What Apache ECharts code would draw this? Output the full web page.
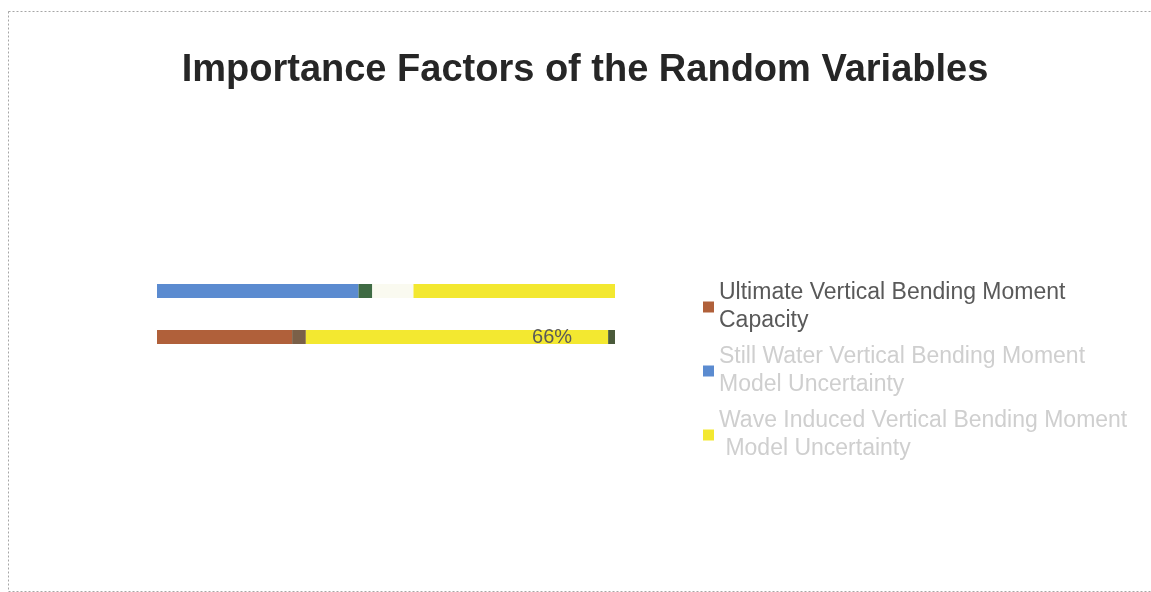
<!DOCTYPE html>
<html>
<head>
<meta charset="utf-8">
<script src="https://cdn.jsdelivr.net/npm/echarts@6/dist/echarts.min.js"></script>
<style>
  html, body { margin: 0; padding: 0; background: #fff; }
  #chart { width: 1151px; height: 592px; }
</style>
</head>
<body>
<div id="chart"></div>
<script>
const categories = ["Sag", "Hog"];
const seriesNames = [
  "Still Water Vertical Bending Moment Model Uncertainty",
  "Ultimate Vertical Bending Moment Capacity",
  "Model Uncertainty",
  "Wave Model Uncertainty",
  "Ultimate Capacity Model Uncertainty",
  "Wave Induced Vertical Bending Moment Model Uncertainty",
  "Wave Uncertainty"
];
const stillWater = [44, 0];
const capacity = [0, 29.5];
const modelUnc = [3, 0];
const waveModel = [9, 0];
const capModel = [0, 3];
const waveBending = [44, 66];
const waveUnc = [0, 1.5];

const chart = echarts.init(document.getElementById("chart"));

const option = {
  backgroundColor: "#fff",
  textStyle: { fontFamily: "Liberation Sans, Arial, sans-serif" },
  title: {
    text: "Importance Factors of the Random Variables",
    left: 580,
    top: 47,
    textAlign: "center",
    textStyle: { fontSize: 38, fontWeight: "bold", color: "#262626" }
  },
  legend: {
    orient: "vertical",
    left: 698,
    top: 274,
    icon: "rect",
    itemWidth: 11,
    itemHeight: 11,
    itemGap: 8,
    data: [
      { name: seriesNames[1] },
      { name: seriesNames[0], textStyle: { color: "#cfcfcf" } },
      { name: seriesNames[5], textStyle: { color: "#cfcfcf" } }
    ],
    textStyle: {
      fontSize: 23,
      color: "#595959",
      width: 415,
      overflow: "break",
      lineHeight: 28
    }
  },
  grid: { left: 157, right: 536, top: 268, height: 92, containLabel: false },
  xAxis: {
    type: "value",
    min: 0,
    max: 100,
    show: false
  },
  yAxis: {
    type: "category",
    data: categories,
    inverse: true,
    axisLine: { show: false },
    axisTick: { show: false },
    axisLabel: { show: false }
  },
  series: [
    {
      name: seriesNames[0], type: "bar", stack: "t", barWidth: 14,
      data: stillWater, itemStyle: { color: "#5B8BD0" }
    },
    {
      name: seriesNames[1], type: "bar", stack: "t", barWidth: 14,
      data: capacity, itemStyle: { color: "#B0603A" }
    },
    {
      name: seriesNames[4], type: "bar", stack: "t", barWidth: 14,
      data: capModel, itemStyle: { color: "#7A6048" }
    },
    {
      name: seriesNames[2], type: "bar", stack: "t", barWidth: 14,
      data: modelUnc, itemStyle: { color: "#3F6B44" }
    },
    {
      name: seriesNames[3], type: "bar", stack: "t", barWidth: 14,
      data: waveModel, itemStyle: { color: "#FAFAF0" }
    },
    {
      name: seriesNames[5], type: "bar", stack: "t", barWidth: 14,
      data: waveBending, itemStyle: { color: "#F3E830" },
      label: {
        show: true,
        position: "insideRight",
        distance: 36,
        fontSize: 20,
        color: "#595959",
        formatter: (p) => (p.dataIndex === 1 ? p.value + "%" : "")
      }
    },
    {
      name: seriesNames[6], type: "bar", stack: "t", barWidth: 14,
      data: waveUnc, itemStyle: { color: "#4A5A3A" }
    }
  ],
  graphic: [
    {
      type: "rect",
      left: 6, top: 9,
      shape: { width: 1143, height: 580 },
      style: { fill: "none", stroke: "#a6a6a6", lineWidth: 1, lineDash: [2, 2] },
      silent: true
    }
  ]
};

chart.setOption(option);
</script>
</body>
</html>
